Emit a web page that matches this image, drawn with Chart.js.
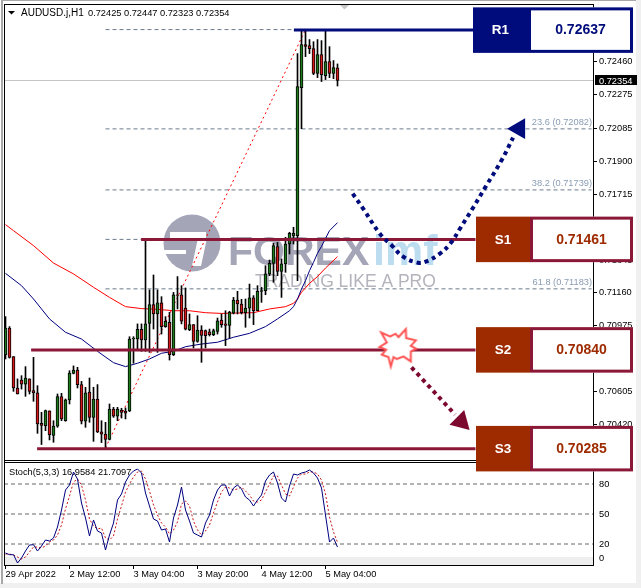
<!DOCTYPE html>
<html>
<head>
<meta charset="utf-8">
<style>html,body{margin:0;padding:0;background:#fff;overflow:hidden}canvas{display:block}</style>
<script src="https://cdn.jsdelivr.net/npm/chart.js@4"></script>
</head>
<body>
<canvas id="c" width="641" height="588"></canvas>
<script>
const open=[.70813,.70963,.70802,.70626,.70671,.70648,.70677,.70611,.70598,.70427,.70414,.70497,.70360,.70411,.70577,.70442,.70559,.70708,.70727,.70645,.70439,.70603,.70461,.70564,.70379,.70367,.70337,.70508,.70467,.70502,.70495,.70497,.70901,.70901,.70956,.70896,.70989,.71094,.71042,.71105,.70971,.70995,.70813,.71150,.71150,.71075,.70954,.70982,.70888,.70952,.70948,.70941,.70926,.70944,.71008,.70986,.70978,.71046,.71120,.71098,.71049,.71075,.71132,.71060,.71169,.71173,.71267,.71326,.71420,.71281,.71323,.71435,.71481,.71482,.72314,.72556,.72550,.72533,.72393,.72499,.72381,.72460,.72393,.72425];
const high=[.71027,.70971,.70802,.70677,.70695,.70746,.70677,.70798,.70639,.70489,.70502,.70497,.70442,.70592,.70596,.70564,.70723,.70750,.70742,.70663,.70630,.70682,.70630,.70645,.70442,.70433,.70536,.70517,.70517,.70512,.70514,.70914,.70914,.70986,.70986,.71458,.71177,.71261,.71177,.71139,.71027,.71051,.71163,.71252,.71201,.71188,.71042,.70982,.71032,.70976,.70952,.70957,.70957,.71019,.71042,.71060,.71057,.71135,.71169,.71124,.71126,.71210,.71145,.71201,.71192,.71313,.71345,.71439,.71444,.71351,.71473,.71501,.71529,.72505,.72640,.72634,.72584,.72572,.72584,.72578,.72640,.72544,.72466,.72447];
const low=[.70789,.70794,.70607,.70592,.70620,.70579,.70592,.70551,.70371,.70308,.70386,.70334,.70321,.70405,.70442,.70439,.70536,.70705,.70626,.70424,.70405,.70433,.70326,.70375,.70319,.70289,.70334,.70461,.70442,.70457,.70452,.70493,.70765,.70839,.70832,.70832,.70826,.70957,.70826,.70929,.70967,.70783,.70808,.71070,.70986,.70952,.70948,.70851,.70883,.70770,.70851,.70918,.70920,.70929,.70967,.70864,.70907,.71042,.71042,.71042,.70967,.71019,.70982,.71060,.71107,.71150,.71257,.71220,.71257,.71135,.71276,.71379,.71435,.71229,.72083,.72488,.72505,.72387,.72370,.72348,.72359,.72370,.72364,.72323];
const close=[.70963,.70798,.70626,.70592,.70648,.70682,.70607,.70598,.70424,.70416,.70499,.70364,.70412,.70577,.70452,.70559,.70710,.70727,.70645,.70439,.70598,.70461,.70564,.70379,.70367,.70337,.70508,.70467,.70508,.70489,.70485,.70901,.70905,.70956,.70896,.70986,.71094,.71042,.71105,.70971,.71001,.70813,.71150,.71146,.71001,.70957,.70982,.70888,.70952,.70922,.70920,.70926,.70948,.71004,.70982,.70978,.71051,.71120,.71098,.71049,.71075,.71132,.71060,.71169,.71173,.71267,.71326,.71426,.71281,.71323,.71435,.71495,.71495,.72320,.72556,.72545,.72533,.72393,.72499,.72387,.72460,.72393,.72426,.72354];

const redMaBars=[0,2,7,12,17,22,26,30,34,38,42,46,50,54,58,62,66,70,72,73,74,76,78,80,83];
const redMa=[.71544,.71510,.71426,.71328,.71267,.71192,.71135,.71083,.71072,.71068,.71060,.71060,.71049,.71045,.71047,.71049,.71070,.71083,.71102,.71126,.71164,.71214,.71252,.71300,.71364];
const blueMaBars=[0,4,7,11,15,19,23,27,30,33,36,39,42,45,49,53,57,61,65,68,71,72,73,74,75,76,77,78,79,81,83];
const blueMa=[.71270,.71201,.71126,.71014,.70939,.70901,.70832,.70768,.70746,.70765,.70789,.70821,.70832,.70858,.70873,.70883,.70911,.70933,.70971,.71014,.71060,.71083,.71126,.71182,.71229,.71285,.71332,.71383,.71422,.71510,.71555];

const stochK=[11,9.3,9.3,1,6,13,19,19.3,13,18,24,23,26,37,54,74,79,92,85,61,46,28,44,33,31,14,29,41,64,70,82,89,93,95,91,71,58,45,43,34,35,22,46,59,77,54,43,31,29,27,41,49,64,74,79,79,68,76,79,75,67,64,58,64,69,83,89,92,81,66,62,78,90,89,91,92,94,91,86,76,49,22,26,16.96];
const stochD=[10,10,9,7,5,7,12,17,17,16,18,22,24,29,39,55,68,82,85,79,64,45,38,35,36,26,24,28,45,58,72,80,87,92,93,85,73,59,49,41,37,30,34,42,60,63,58,43,34,29,33,39,51,62,72,77,76,74,75,77,73,69,63,62,64,72,80,88,88,79,70,68,77,86,90,90,92,92,90,84,70,47,32,21.71];
const stochLevels=[80,50,20];
const stochTicks=[96,80,50,20,6];
const stochTickText=['100','80','50','20','0'];
const stochBand=[-1,7];

const priceTicks=[.72645,.72460,.72275,.72085,.71900,.71715,.71530,.71345,.71160,.70975,.70790,.70605,.70420,.70235];
const timeTickBars=[0,16,32,48,64,80];
const timeTickText=['29 Apr 2022','2 May 12:00','3 May 04:00','3 May 20:00','4 May 12:00','5 May 04:00'];

const lastPrice=.72354;
const fibLevels=[.72640,.72082,.71739,.71461,.71183,.70285];
const fibText=['','23.6 (0.72082)','38.2 (0.71739)','','61.8 (0.71183)',''];
const fibStartBar=25;
const trendBars=[25,75];
const trendPrices=[.70289,.72640];

const srNames=['R1','S1','S2','S3'];
const srLevels=[.72637,.71461,.70840,.70285];
const srText=['0.72637','0.71461','0.70840','0.70285'];
const srStartBars=[72.1,33.9,6.4,7.9];
const srEndBar=117.5;

const upBars=[86.8,89.4,93.6,96.6,99.4,103.1,105.1,108.6,111.4,113.6,116.9,119.9,124.1,126.9];
const upPrices=[.71718,.71634,.71493,.71426,.71364,.71330,.71336,.71381,.71443,.71521,.71639,.71752,.71909,.72033];
const upHead=[128.4,.72083];
const downBars=[101.5,112.4];
const downPrices=[.70742,.70476];
const downHead=[113.9,.70437];
const burstAt=[98.25,.70850];

const NAVY='#000b7c',BROWN='#9e2a00',MAROON='#8c1838',FONT='"Liberation Sans",Arial,sans-serif';
const XMIN=-0.375,XMAX=146.875;
const pts=(xs,ys)=>xs.map((x,i)=>({x,y:ys[i]}));
const bars=open.map((_,i)=>i);

const burstCanvas=(()=>{
  const v=[[33,38],[60,50],[76,42],[85,52],[107,28],[108,55],[137,62],[122,78],[138,87],[122,95],[122,125],[100,110],[80,118],[70,112],[62,140],[55,112],[35,105],[48,90],[28,82],[50,68]];
  const c=document.createElement('canvas');c.width=c.height=60;
  const g=c.getContext('2d');g.beginPath();
  v.forEach((p,i)=>{const x=30+(p[0]-85)/3,y=30+(p[1]-85)/3;i?g.lineTo(x,y):g.moveTo(x,y);});
  g.closePath();g.fillStyle='#fff';g.fill();g.strokeStyle='#ff5252';g.lineWidth=2;g.lineJoin='miter';g.stroke();
  return c;
})();

const lineDs=(data,color,o={})=>Object.assign({type:'line',data,borderColor:color,borderWidth:1,pointRadius:0,fill:false,xAxisID:'x',yAxisID:'y',tension:0},o);
const noPad=s=>{s.paddingTop=s.paddingBottom=s.paddingLeft=s.paddingRight=0;};
const D=[];
fibLevels.forEach(l=>D.push(lineDs(pts([fibStartBar,146.5],[l,l]),'#6c7a8c',{borderDash:[4,3],order:60})));
D.push(lineDs(pts([XMIN,XMAX],[lastPrice,lastPrice]),'#c4c4c4',{order:59}));
D.push(lineDs(pts(trendBars,trendPrices),'#ff0000',{borderDash:[2,3],order:50}));
D.push(lineDs(pts(redMaBars,redMa),'#ff0000',{order:45}));
D.push(lineDs(pts(blueMaBars,blueMa),'#00007f',{order:44}));
D.push({type:'bar',data:bars.map(i=>({x:i,y:[low[i],high[i]]})),backgroundColor:'#000',barThickness:1,grouped:false,borderWidth:0,xAxisID:'x',yAxisID:'y',order:30});
D.push({type:'bar',data:bars.map(i=>({x:i,y:[open[i],close[i]]})),backgroundColor:bars.map(i=>close[i]>=open[i]?'#1c7c1c':'#d81818'),borderColor:'#000',borderWidth:1,borderSkipped:false,barThickness:3,grouped:false,xAxisID:'x',yAxisID:'y',order:29});
srLevels.forEach((l,k)=>D.push(lineDs(pts([srStartBars[k],srEndBar],[l,l]),k?MAROON:NAVY,{borderWidth:3,order:20})));
D.push(lineDs(pts(upBars,upPrices),NAVY,{borderWidth:4,borderDash:[4,4],tension:0.4,order:10}));
D.push(lineDs(pts([upHead[0]],[upHead[1]]),NAVY,{showLine:false,pointRadius:12,pointStyle:'triangle',rotation:-90,pointBackgroundColor:NAVY,pointBorderWidth:0,order:9}));
D.push(lineDs(pts(downBars,downPrices),'#7c0a2e',{borderWidth:4,borderDash:[4,4],order:10}));
D.push(lineDs(pts([downHead[0]],[downHead[1]]),'#7c0a2e',{showLine:false,pointRadius:12,pointStyle:'triangle',rotation:135,pointBackgroundColor:'#7c0a2e',pointBorderWidth:0,order:9}));
D.push(lineDs(pts([burstAt[0]],[burstAt[1]]),'#ff5252',{showLine:false,pointRadius:20,pointStyle:burstCanvas,order:8}));
stochLevels.forEach(l=>D.push(lineDs(pts([XMIN,XMAX],[l,l]),'#666666',{borderDash:[4,3],yAxisID:'yStoch',order:40})));
D.push(lineDs(pts(bars,stochD),'#c81818',{borderDash:[2,2],yAxisID:'yStoch',order:38}));
D.push(lineDs(pts(bars,stochK),'#00007f',{yAxisID:'yStoch',order:37}));

const decor={
  id:'decor',
  beforeDraw(ch){
    const g=ch.ctx;g.save();
    g.fillStyle='#fff';g.fillRect(0,0,641,588);
    g.fillStyle='#f0f0f0';g.fillRect(636,0,5,588);g.fillRect(0,583,641,5);
    g.fillStyle='#a8a8a8';g.fillRect(1,0,2,584);g.fillRect(1,0,635,1);
    g.restore();
  },
  beforeDatasetsDraw(ch){
    const g=ch.ctx,a=ch.chartArea,ys=ch.scales.yStoch;
    g.save();
    const t=ys.getPixelForValue(stochBand[1]),b=ys.getPixelForValue(stochBand[0]);
    g.fillStyle='#eeeeee';g.fillRect(a.left,t,a.right-a.left,b-t);
    // watermark
    g.fillStyle='#a4a6b8';g.beginPath();g.arc(192,243,28.5,0,Math.PI*2);g.fill();
    g.fillStyle='#fff';g.fillRect(170,232,36,6);
    g.beginPath();g.moveTo(198,238);g.lineTo(207,238);g.lineTo(201,266);g.lineTo(192,266);g.closePath();g.fill();
    g.fillRect(164,250,22,4);
    g.textBaseline='alphabetic';g.textAlign='left';
    g.font='bold 41px '+FONT;g.fillStyle='#a4a6b8';g.fillText('FOREX',228,265);
    g.font='bold 43px '+FONT;g.fillStyle='#bcdcf0';g.fillText('imf',373,265);
    g.font='17.5px '+FONT;g.fillStyle='#b4b4bc';g.fillText('TRADING LIKE A PRO',255,287);
    g.restore();
  },
  afterDraw(ch){
    const g=ch.ctx,y=ch.scales.y;
    g.save();
    // frame
    g.fillStyle='#000';
    g.fillRect(4,4,589,1);g.fillRect(4,4,1,562);
    g.fillRect(4,460,589,1);g.fillRect(4,462,589,1);
    // small markers
    g.beginPath();g.moveTo(8,11);g.lineTo(15,11);g.lineTo(11.5,14.5);g.closePath();g.fill();
    g.fillStyle='#c8c8c8';g.beginPath();g.moveTo(340,5);g.lineTo(349,5);g.lineTo(344.5,9.5);g.closePath();g.fill();
    // titles
    g.textBaseline='middle';g.textAlign='left';g.fillStyle='#000';
    g.font='10px '+FONT;g.fillText('AUDUSD.j,H1',21,13);
    g.font='9.25px '+FONT;g.fillText('0.72425 0.72447 0.72323 0.72354',88,13);
    g.fillText('Stoch(5,3,3) 16.9584 21.7097',9,472);
    // fib labels
    g.textAlign='right';g.fillStyle='#8a9cb4';
    fibLevels.forEach((l,k)=>{if(fibText[k])g.fillText(fibText[k],592,y.getPixelForValue(l)-6);});
    // last price
    const py=y.getPixelForValue(lastPrice);
    g.fillStyle='#000';g.fillRect(595,Math.round(py)-5,42,10);
    g.fillStyle='#fff';g.textAlign='left';g.fillText(lastPrice.toFixed(5),599,py+.5);
    // boxes
    srNames.forEach((n,k)=>{
      const cy=y.getPixelForValue(srLevels[k]),h=45.5,top=cy-h/2;
      const L=k?476:473,M=k?530:528,R=633,col=k?BROWN:NAVY,edge=k?MAROON:NAVY;
      g.fillStyle=col;g.fillRect(L,top,M-L,h);
      g.fillStyle='#fff';g.fillRect(M,top,R-M,h);
      g.strokeStyle=edge;g.lineWidth=3;g.strokeRect(M+1.5,top+1.5,R-M-3,h-3);
      g.textAlign='center';g.textBaseline='middle';
      g.font='bold 13.5px '+FONT;g.fillStyle='#fff';g.fillText(n,(L+M)/2,cy+.5);
      g.font='bold 14px '+FONT;g.fillStyle=col;g.fillText(srText[k],(M+R)/2,cy+.5);
    });
    g.restore();
  }
};

Chart.defaults.font.family=FONT;Chart.defaults.font.size=9.25;Chart.defaults.color='#000';
new Chart(document.getElementById('c'),{
  type:'bar',
  data:{datasets:D},
  plugins:[decor],
  options:{
    responsive:false,animation:false,devicePixelRatio:1,events:[],
    layout:{autoPadding:false,padding:{left:4,top:4,right:0,bottom:0}},
    plugins:{legend:{display:false},tooltip:{enabled:false},title:{display:false}},
    scales:{
      x:{type:'linear',min:XMIN,max:XMAX,offset:false,position:'bottom',
        border:{color:'#000'},
        grid:{offset:false,drawOnChartArea:false,tickColor:'#000',tickLength:4},
        afterBuildTicks:s=>{s.ticks=timeTickBars.map(value=>({value}));},
        afterFit:s=>{s.height=23;noPad(s);},
        ticks:{autoSkip:false,maxRotation:0,minRotation:0,align:'start',padding:0,callback:v=>timeTickText[timeTickBars.indexOf(v)]}},
      y:{type:'linear',position:'right',stack:'panes',stackWeight:457,weight:0,min:.702156,max:.727838,
        border:{color:'#000'},
        grid:{drawOnChartArea:false,tickColor:'#000',tickLength:4},
        afterBuildTicks:s=>{s.ticks=priceTicks.map(value=>({value}));},
        afterFit:s=>{s.width=48;noPad(s);},
        ticks:{autoSkip:false,padding:2,callback:v=>v.toFixed(5)}},
      yStoch:{type:'linear',position:'right',stack:'panes',stackWeight:104,weight:1,min:-1,max:103,
        border:{color:'#000'},
        grid:{drawOnChartArea:false,drawTicks:true,tickColor:'rgba(0,0,0,0)',tickLength:4},
        afterBuildTicks:s=>{s.ticks=stochTicks.map(value=>({value}));},
        afterFit:s=>{s.width=48;noPad(s);},
        ticks:{autoSkip:false,padding:2,callback:v=>stochTickText[stochTicks.indexOf(v)]}}
    }
  }
});
</script>
</body>
</html>
